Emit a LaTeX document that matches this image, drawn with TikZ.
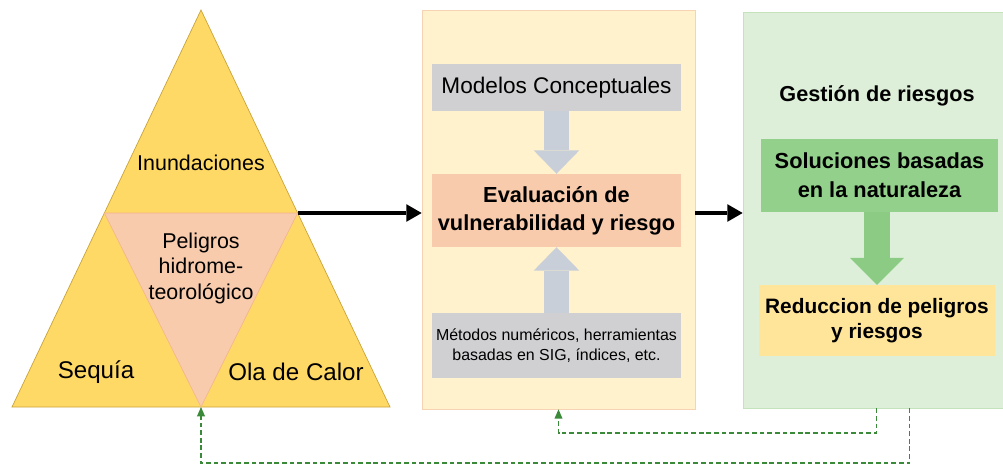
\documentclass[tikz,border=0pt]{standalone}
\usepackage{fontspec}
\setmainfont{Liberation Sans}
\usetikzlibrary{arrows.meta, calc, positioning}

\definecolor{amarillo}{HTML}{FFD966}
\definecolor{bordeama}{HTML}{C9A43A}
\definecolor{salmon}{HTML}{F8CBAD}
\definecolor{bordesal}{HTML}{F2B48C}
\definecolor{panelama}{HTML}{FFF2CC}
\definecolor{bordepanel}{HTML}{F6D3B3}
\definecolor{gris}{HTML}{D0D0D2}
\definecolor{grisflecha}{HTML}{C9CFD8}
\definecolor{panelverde}{HTML}{DDEFD8}
\definecolor{bordeverde}{HTML}{C4E2BC}
\definecolor{verdecaja}{HTML}{93D08B}
\definecolor{verdeflecha}{HTML}{8CCB84}
\definecolor{amacaja}{HTML}{FFE59A}
\definecolor{verdeosc}{HTML}{3A8A3A}

\def\px{0.8536pt}

\begin{document}
\begin{tikzpicture}[x=0.03cm, y=-0.03cm,
    caja/.style={rectangle, inner sep=0pt, align=center},
    texto/.style={font=\fontsize{18.3}{21.8}\selectfont, align=center},
    textog/.style={font=\fontsize{20.6}{24}\selectfont},
    negrita/.style={font=\bfseries\fontsize{18.6}{24}\selectfont},
    flecha/.style={-{Triangle[length=13pt, width=15pt, line width=0pt]}, line width=4pt},
    bloque/.style={draw=#1, line width=20.5pt, -{Triangle[length=20pt, width=39pt, line width=0pt]}},
    retro/.style={draw=verdeosc, line width=1.6pt, dash pattern=on 4pt off 2.5pt,
        -{Triangle[length=8pt, width=7pt, line width=0pt]}}]

    \useasboundingbox (0,0) rectangle (1003,466);

    % Triangulo de peligros
    \coordinate (A) at (201,10);
    \coordinate (B) at (12,407);
    \coordinate (C) at (390,407);
    \coordinate (tribot) at (201,407);
    \coordinate (trimi) at (104.4,213);
    \coordinate (trimd) at (297.6,213);
    \draw[draw=bordeama, fill=amarillo, line width=0.6pt] (A) -- (B) -- (C) -- cycle;
    \draw[draw=bordesal, fill=salmon, line width=0.5pt] (trimi) -- (trimd) -- (tribot) -- cycle;
    \node[texto] (inund) at (201,163) {Inundaciones};
    \node[texto] (peli) at (201,268) {Peligros\\hidrome-\\teorológico};
    \node[textog] (sequia) at (96,372) {Sequía};
    \node[textog] (ola) at (296,372) {Ola de Calor};

    % Panel de evaluacion
    \node[caja, fill=panelama, draw=bordepanel, line width=0.6pt,
        minimum width=273*\px, minimum height=399*\px] (mid) at (558.5,209.5) {};
    \node[caja, fill=gris, minimum width=249*\px, minimum height=47*\px,
        font=\fontsize{19.3}{22}\selectfont] (modelos) at (556.5,87.5) {Modelos Conceptuales};
    \node[caja, fill=salmon, minimum width=249*\px, minimum height=73*\px, negrita]
        (eval) at (556.5,210.5) {Evaluación de\\vulnerabilidad y riesgo};
    \node[caja, fill=gris, minimum width=249*\px, minimum height=65*\px,
        font=\fontsize{13.6}{17}\selectfont] (metodos) at (556.5,345.5)
        {Métodos numéricos, herramientas\\basadas en SIG, índices, etc.};
    \draw[bloque=grisflecha] (modelos.south) -- (eval.north);
    \draw[bloque=grisflecha] (metodos.north) -- (eval.south);

    % Panel de gestion
    \node[caja, fill=panelverde, draw=bordeverde, line width=0.6pt,
        minimum width=267*\px, minimum height=396*\px] (gest) at (876.5,210) {};
    \node[font=\bfseries\fontsize{18.5}{20}\selectfont] (titulo) at (877,96) {Gestión de riesgos};
    \node[caja, fill=verdecaja, minimum width=237*\px, minimum height=73*\px,
        font=\bfseries\fontsize{18.6}{24.5}\selectfont] (soluc) at (879.5,175.5)
        {Soluciones basadas\\en la naturaleza};
    \node[caja, fill=amacaja, minimum width=236*\px, minimum height=71*\px,
        font=\bfseries\fontsize{17.8}{21.5}\selectfont] (reduc) at (877,320.5)
        {Reduccion de peligros\\y riesgos};
    \draw[draw=verdeflecha, line width=22pt,
        -{Triangle[length=23pt, width=46pt, line width=0pt]}] (soluc.south -| reduc.north) -- (reduc.north);

    % Flechas principales
    \draw[flecha] (trimd) -- (trimd -| mid.west);
    \draw[flecha] (mid.east |- trimd) -- (gest.west |- trimd);

    % Retroalimentacion
    \draw[retro] (gest.south) -- ++(0,25) -| (mid.south);
    \draw[retro] ([shift={(33,0)}]gest.south) -- ++(0,55) -| (tribot);

\end{tikzpicture}
\end{document}
